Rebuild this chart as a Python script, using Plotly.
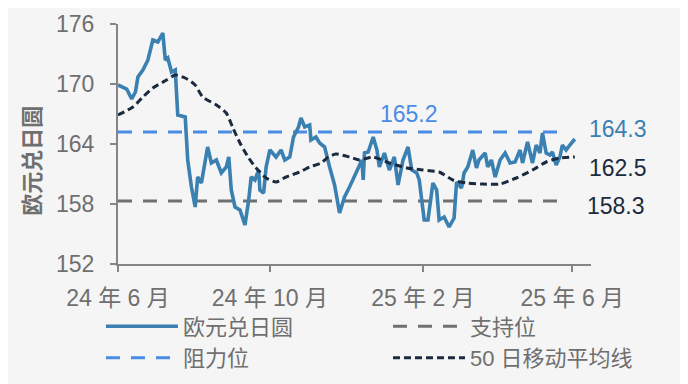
import plotly.graph_objects as go

# ---- data ----
fx_dates = [
    "2024-06-01", "2024-06-08", "2024-06-12", "2024-06-15", "2024-06-17", "2024-06-21", "2024-06-25",
    "2024-06-29", "2024-07-03", "2024-07-07", "2024-07-09", "2024-07-11", "2024-07-14", "2024-07-17",
    "2024-07-19", "2024-07-25", "2024-07-27", "2024-07-30", "2024-08-02", "2024-08-04", "2024-08-07",
    "2024-08-12", "2024-08-15", "2024-08-19", "2024-08-23", "2024-08-27", "2024-08-29", "2024-08-31",
    "2024-09-03", "2024-09-07", "2024-09-11", "2024-09-14", "2024-09-16", "2024-09-19", "2024-09-22",
    "2024-09-23", "2024-09-26", "2024-09-28", "2024-10-01", "2024-10-06", "2024-10-10", "2024-10-13",
    "2024-10-17", "2024-10-20", "2024-10-24", "2024-10-26", "2024-10-29", "2024-11-02", "2024-11-03",
    "2024-11-07", "2024-11-10", "2024-11-14", "2024-11-18", "2024-11-22", "2024-11-26", "2024-11-30",
    "2024-12-04", "2024-12-10", "2024-12-14", "2024-12-15", "2024-12-16", "2024-12-19", "2024-12-23",
    "2024-12-26", "2024-12-28", "2025-01-01", "2025-01-05", "2025-01-09", "2025-01-12", "2025-01-16",
    "2025-01-20", "2025-01-23", "2025-01-27", "2025-01-29", "2025-02-02", "2025-02-05", "2025-02-09",
    "2025-02-12", "2025-02-14", "2025-02-18", "2025-02-22", "2025-02-26", "2025-02-28", "2025-03-04",
    "2025-03-06", "2025-03-09", "2025-03-13", "2025-03-16", "2025-03-18", "2025-03-23", "2025-03-25",
    "2025-03-28", "2025-03-31", "2025-04-04", "2025-04-08", "2025-04-12", "2025-04-16", "2025-04-20",
    "2025-04-22", "2025-04-26", "2025-04-30", "2025-05-03", "2025-05-06", "2025-05-08", "2025-05-11",
    "2025-05-14", "2025-05-16", "2025-05-19", "2025-05-22", "2025-05-24", "2025-05-27", "2025-05-30",
    "2025-06-03",
]
fx_values = [
    169.9, 169.5, 168.5, 169.2, 170.7, 171.4, 172.4,
    174.4, 174.2, 175.1, 172.4, 172.6, 171.2, 171.4,
    166.9, 166.7, 162.4, 159.7, 157.7, 160.7, 160.1,
    163.7, 162.1, 162.4, 161.1, 161.7, 162.7, 159.4,
    157.7, 157.4, 155.9, 158.4, 160.7, 160.4, 161.4,
    159.4, 159.1, 161.7, 163.4, 162.7, 163.4, 162.4,
    162.7, 164.7, 165.7, 166.6, 165.7, 165.9, 164.4,
    164.7, 164.1, 163.7, 161.7, 159.9, 157.1, 158.7,
    159.7, 161.4, 162.4, 160.4, 163.1, 163.2, 164.7,
    163.4, 161.7, 163.1, 161.4, 162.7, 159.9, 162.4,
    163.7, 161.4, 161.1, 160.4, 156.4, 156.4, 160.1,
    159.4, 156.4, 156.7, 155.7, 156.6, 160.2, 159.6,
    161.1, 161.7, 163.4, 161.6, 162.4, 163.1, 161.7,
    162.4, 160.7, 162.4, 163.1, 162.1, 162.2, 163.4,
    162.1, 164.2, 162.1, 163.9, 163.1, 165.1, 163.1,
    162.9, 163.2, 161.9, 162.7, 163.9, 163.4, 163.9,
    164.5,
]

ma_dates = [
    "2024-06-01", "2024-06-13", "2024-06-21", "2024-06-29", "2024-07-10", "2024-07-17", "2024-07-25",
    "2024-08-02", "2024-08-08", "2024-08-19", "2024-08-27", "2024-09-01", "2024-09-07", "2024-09-14",
    "2024-09-20", "2024-09-28", "2024-10-06", "2024-10-14", "2024-10-25", "2024-11-02", "2024-11-11",
    "2024-11-17", "2024-11-23", "2024-12-04", "2024-12-12", "2024-12-23", "2025-01-05", "2025-01-19",
    "2025-02-01", "2025-02-14", "2025-02-25", "2025-03-08", "2025-03-21", "2025-04-04", "2025-04-17",
    "2025-04-30", "2025-05-11", "2025-05-22", "2025-06-03",
]
ma_values = [
    166.9, 167.7, 168.7, 169.6, 170.4, 170.9, 170.6,
    169.9, 168.7, 167.9, 167.1, 165.7, 164.1, 162.6,
    161.6, 160.6, 160.2, 160.7, 161.2, 161.7, 162.1,
    162.7, 163.0, 162.7, 162.4, 162.7, 162.1, 161.6,
    161.4, 161.2, 160.4, 160.1, 160.0, 160.0, 160.6,
    161.4, 162.2, 162.6, 162.7,
]

level_dates = ["2024-06-01", "2025-05-25"]
resistance_level = 165.2
support_level = 158.3
fx_last_label = "164.3"
ma_last_label = "162.5"

x_tick_vals = ["2024-06-01", "2024-10-01", "2025-02-01", "2025-06-01"]
x_tick_text = ["24 年 6 月", "24 年 10 月", "25 年 2 月", "25 年 6 月"]
y_tick_vals = [152, 158, 164, 170, 176]

# ---- styles ----
BG = "#F5F5F5"
GREY = "#6F6F6F"
AXIS = "#858585"
FX_C = "#3A80B1"
RES_C = "#4A8BE6"
SUP_C = "#707070"
MA_C = "#1B2A3E"
FONT = "Liberation Sans, Arial, Noto Sans CJK SC, sans-serif"

fig = go.Figure()
fig.add_trace(go.Scatter(x=level_dates, y=[support_level] * 2, mode="lines", name="支持位",
                         line=dict(color=SUP_C, width=3, dash="14px,11px"), legendrank=2))
fig.add_trace(go.Scatter(x=level_dates, y=[resistance_level] * 2, mode="lines", name="阻力位",
                         line=dict(color=RES_C, width=3, dash="14px,11px"), legendrank=3))
fig.add_trace(go.Scatter(x=fx_dates, y=fx_values, mode="lines", name="欧元兑日圆",
                         line=dict(color=FX_C, width=3.6), legendrank=1))
fig.add_trace(go.Scatter(x=ma_dates, y=ma_values, mode="lines", name="50 日移动平均线",
                         line=dict(color=MA_C, width=3, dash="7px,4px", shape="spline", smoothing=0.6),
                         legendrank=4))

annos = [
    dict(x=0.615, xref="paper", y=167.05, yref="y", text=f"{resistance_level:.1f}",
         font=dict(color=RES_C, size=23)),
    dict(x=1.058, xref="paper", y=165.5, yref="y", text=fx_last_label, font=dict(color=FX_C, size=23)),
    dict(x=1.058, xref="paper", y=161.65, yref="y", text=ma_last_label, font=dict(color=MA_C, size=23)),
    dict(x=1.053, xref="paper", y=157.8, yref="y", text=f"{support_level:.1f}",
         font=dict(color=MA_C, size=23)),
    dict(x=-0.186, xref="paper", y=0.43, yref="paper", text="<b>欧元兑日圆</b>", textangle=-90,
         font=dict(color=GREY, size=22, family="Noto Sans CJK SC")),
]
for a in annos:
    a.update(showarrow=False, xanchor="center", yanchor="middle")

# the page body adds an 8px offset, so margins are trimmed on the left/top
fig.update_layout(
    width=688, height=384,
    margin=dict(l=110, r=105, t=16, b=128, autoexpand=False),
    paper_bgcolor=BG, plot_bgcolor=BG,
    font=dict(family=FONT, color=GREY, size=23),
    showlegend=True,
    legend=dict(orientation="h", x=-0.036, xanchor="left", y=-0.1725, yanchor="top",
                itemwidth=72, entrywidth=200, entrywidthmode="pixels",
                font=dict(size=22, color=GREY), bgcolor="rgba(0,0,0,0)",
                traceorder="normal"),
    annotations=annos,
)
fig.update_xaxes(type="date", range=["2024-06-01", "2025-06-16"], showgrid=False, zeroline=False,
                 showline=True, linecolor=AXIS, linewidth=2, ticks="outside", ticklen=6,
                 tickcolor=AXIS, tickwidth=2, tickvals=x_tick_vals, ticktext=x_tick_text,
                 ticklabelstandoff=6, tickfont=dict(size=23, color=GREY))
fig.update_yaxes(range=[152, 176], showgrid=False, zeroline=False, showline=True, linecolor=AXIS,
                 linewidth=2, ticks="outside", ticklen=6, tickcolor=AXIS, tickwidth=2,
                 tickvals=y_tick_vals, ticklabelstandoff=11, tickfont=dict(size=23, color=GREY))

fig.write_html("out.html")
